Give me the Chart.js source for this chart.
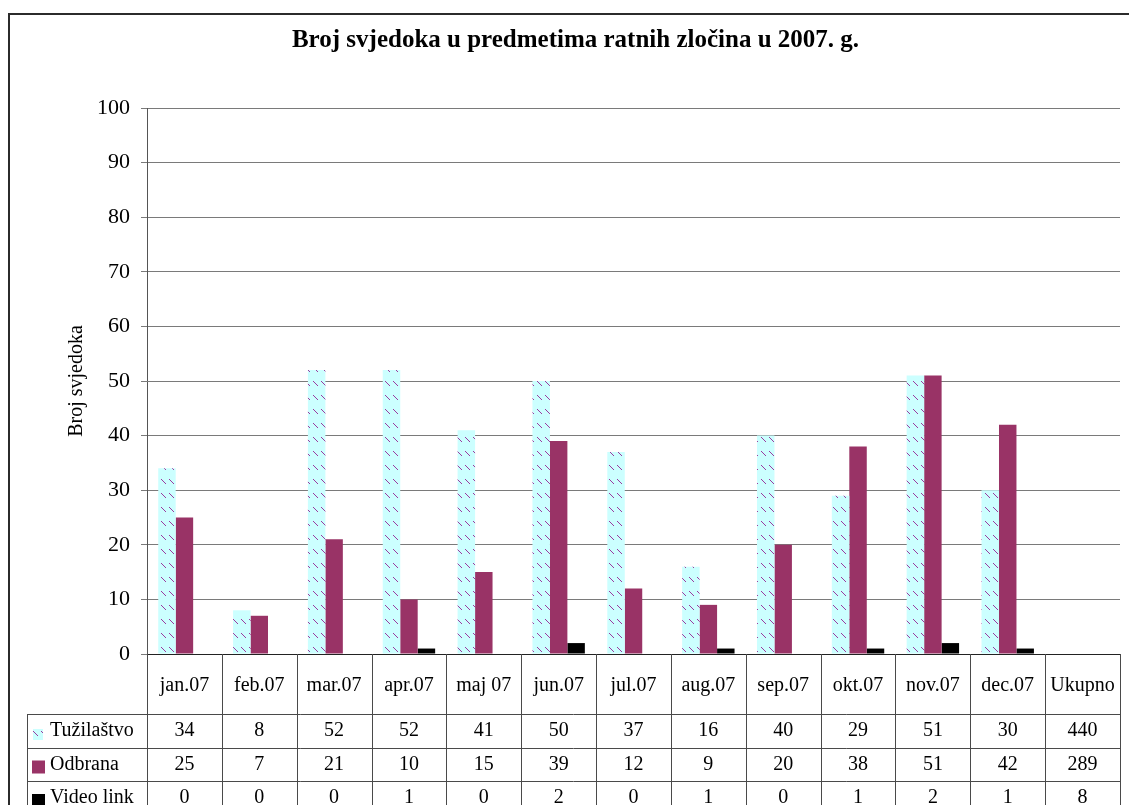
<!DOCTYPE html>
<html>
<head>
<meta charset="utf-8">
<script src="https://cdn.jsdelivr.net/npm/chart.js@4"></script>
<style>
html, body { margin: 0; padding: 0; background: #fff; }
#wrap { width: 1129px; height: 805px; position: relative; }
</style>
</head>
<body>
<div id="wrap"><canvas id="chart"></canvas></div>
<script>
// data
const categories = ['jan.07', 'feb.07', 'mar.07', 'apr.07', 'maj 07', 'jun.07', 'jul.07', 'aug.07', 'sep.07', 'okt.07', 'nov.07', 'dec.07', 'Ukupno'];
const tuzilastvo = [34, 8, 52, 52, 41, 50, 37, 16, 40, 29, 51, 30];
const odbrana = [25, 7, 21, 10, 15, 39, 12, 9, 20, 38, 51, 42];
const videoLink = [0, 0, 0, 1, 0, 2, 0, 1, 0, 1, 2, 1];
const ukupno = [440, 289, 8];
const seriesNames = ['Tužilaštvo', 'Odbrana', 'Video link'];

const FONT = 'Liberation Serif, Times New Roman, serif';

function makePattern(){
    const c = document.createElement('canvas');
    c.width = 8;
    c.height = 14;
    const g = c.getContext('2d');
    g.fillStyle = '#ccffff';
    g.fillRect(0, 0, 8, 14);
    g.fillStyle = '#9a3a9e';
    for(let k = 0; k < 5; k++){
        g.fillRect(1 + k, 3 + k, 1, 1);
    }
    return g.createPattern(c, 'repeat');
}

const hatch = makePattern();
const colors = [hatch, '#993366', '#000000'];

// frame + data table under the plot
const tablePlugin = {
    id: 'dataTable',
    beforeDraw(chart){
        const ctx = chart.ctx;
        ctx.save();
        ctx.fillStyle = '#fff';
        ctx.fillRect(0, 0, chart.width, chart.height);
        ctx.strokeStyle = '#2b2b2b';
        ctx.lineWidth = 2;
        ctx.strokeRect(9, 14, 1140, 820);
        ctx.restore();
    },
    afterDraw(chart){
        const ctx = chart.ctx;
        const a = chart.chartArea;
        const xs = chart.scales.x;
        const n = categories.length;
        const colW = a.width / n;
        const headBottom = a.bottom + 60;
        const rowH = 33.5;
        const tableLeft = 27;
        const bottom = chart.height + 5;

        ctx.save();
        ctx.strokeStyle = '#4a4a4a';
        ctx.lineWidth = 1;
        ctx.beginPath();
        for(let r = 0; r < 4; r++){
            const y = Math.round(headBottom + r * rowH) + 0.5;
            ctx.moveTo(tableLeft, y);
            ctx.lineTo(a.right, y);
        }
        ctx.moveTo(tableLeft + 0.5, headBottom);
        ctx.lineTo(tableLeft + 0.5, bottom);
        for(let i = 0; i <= n; i++){
            const x = Math.round(a.left + i * colW) + 0.5;
            ctx.moveTo(x, a.bottom);
            ctx.lineTo(x, bottom);
        }
        ctx.stroke();

        const rows = [tuzilastvo, odbrana, videoLink];
        ctx.fillStyle = '#000';
        ctx.font = '20px ' + FONT;
        ctx.textBaseline = 'middle';
        ctx.textAlign = 'center';
        for(let r = 0; r < rows.length; r++){
            const yc = headBottom + r * rowH + rowH / 2;
            for(let i = 0; i < n; i++){
                const v = i < rows[r].length ? rows[r][i] : ukupno[r];
                ctx.fillText(String(v), xs.getPixelForValue(i), yc);
            }
        }

        // legend keys and series names
        ctx.textAlign = 'left';
        for(let r = 0; r < seriesNames.length; r++){
            const y0 = headBottom + r * rowH;
            ctx.fillStyle = colors[r];
            if(r === 0){
                ctx.fillRect(33, y0 + 15, 10, 11);
            } else {
                ctx.fillRect(32, y0 + 13, 13, 13);
            }
            ctx.fillStyle = '#000';
            ctx.fillText(seriesNames[r], 50, y0 + rowH / 2);
        }
        ctx.restore();
    }
};

const config = {
    type: 'bar',
    data: {
        labels: categories,
        datasets: [
            { label: seriesNames[0], data: tuzilastvo, backgroundColor: colors[0] },
            { label: seriesNames[1], data: odbrana, backgroundColor: colors[1] },
            { label: seriesNames[2], data: videoLink, backgroundColor: colors[2] }
        ]
    },
    options: {
        responsive: true,
        maintainAspectRatio: false,
        animation: false,
        devicePixelRatio: 1,
        datasets: {
            bar: { categoryPercentage: 0.7, barPercentage: 1.0, borderWidth: 0 }
        },
        layout: { padding: { top: 0, left: 31, right: 9, bottom: 0 } },
        plugins: {
            legend: { display: false },
            tooltip: { enabled: false },
            title: {
                display: true,
                text: 'Broj svjedoka u predmetima ratnih zločina u 2007. g.',
                color: '#000',
                font: { family: FONT, size: 25, weight: 'bold' },
                padding: { top: 26, bottom: 52 }
            }
        },
        scales: {
            x: {
                grid: { display: false },
                border: { display: true, color: '#222', width: 1 },
                ticks: {
                    color: '#000',
                    font: { family: FONT, size: 20 },
                    padding: 12,
                    maxRotation: 0,
                    autoSkip: false
                },
                afterFit(scale){
                    scale.height = 151;
                    scale.paddingLeft = 0;
                    scale.paddingRight = 0;
                }
            },
            y: {
                min: 0,
                max: 100,
                ticks: {
                    stepSize: 10,
                    color: '#000',
                    font: { family: FONT, size: 22 },
                    padding: 11
                },
                grid: { color: '#7a7a7a', lineWidth: 1, tickLength: 6 },
                border: { color: '#555', width: 1 },
                title: {
                    display: true,
                    text: 'Broj svjedoka',
                    color: '#000',
                    font: { family: FONT, size: 20 },
                    padding: { top: 34, bottom: 0 }
                },
                afterFit(scale){ scale.width = 116; }
            }
        }
    },
    plugins: [tablePlugin]
};

new Chart(document.getElementById('chart').getContext('2d'), config);
</script>
</body>
</html>
